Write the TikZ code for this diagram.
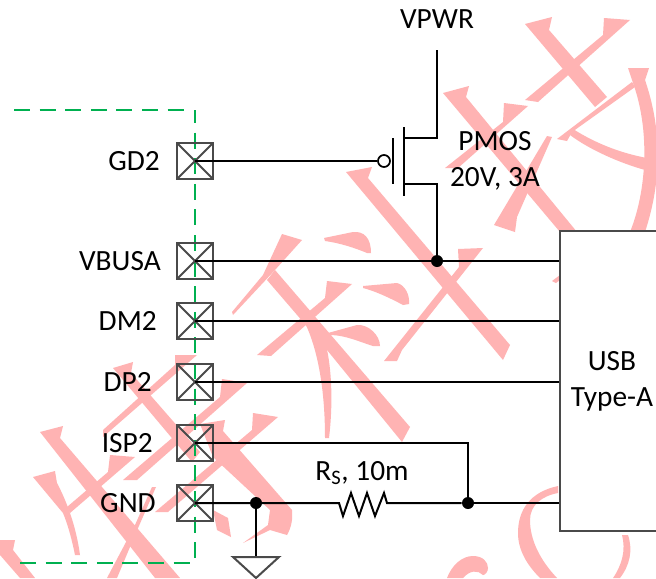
\documentclass[tikz,border=0pt]{standalone}
\usepackage{fontspec}
\setmainfont{Carlito}
\definecolor{wm}{HTML}{FFB3B3}
\definecolor{gd}{HTML}{00B050}
\definecolor{pin}{HTML}{4A4A4A}
\tikzset{
  wire/.style={line width=1.5pt,black},
  grn/.style={gd,line width=1.5pt,dash pattern=on 12pt off 7.2pt},
  lbl/.style={font=\fontsize{22}{27}\selectfont,inner sep=0pt,text=black},
  pinbox/.style={draw=pin,line width=1.5pt,minimum size=27pt,inner sep=0pt,path picture={
    \draw[pin,line width=1.4pt] (path picture bounding box.north west)--(path picture bounding box.south east)
     (path picture bounding box.north east)--(path picture bounding box.south west);}},
  dotj/.style={circle,fill=black,inner sep=0pt,minimum size=9pt},
  wmk/.style={fill=wm,draw=none}
}
\begin{document}
\begin{tikzpicture}[x=0.75pt,y=-0.75pt]
\useasboundingbox (0,0) rectangle (656,578);
\fill[white] (0,0) rectangle (656,578);
% watermark
\begin{scope}
\clip (0,0) rectangle (656,578);
\fill[wmk] (525,24)--(552,17)--(549,30)--(607,97)--(595,107)--cycle;
\fill[wmk] (630,20)--(604,18)--(603,35)--(525,100)--(538,102)--cycle;
\fill[wmk] (628,68)--(649,68)--(645,80) .. controls (662,130) and (662,180) .. (645,232)--(630,232) .. controls (647,190) and (650,130) .. (633,83)--cycle;
\fill[wmk] (632,82)--(557,139)--(567,141)--(572,132)--(635,87)--cycle;
\fill[wmk] (573,129) .. controls (595,143) and (620,153) .. (647,158)--(645,170) .. controls (620,163) and (590,150) .. (570,135)--cycle;
\fill[wmk] (443,93)--(469,86)--(466,97)--(577,232)--(560,232)--cycle;
\fill[wmk] (528,106)--(504,103)--(503,122)--(445,168)--(458,168)--cycle;
\fill[wmk] (552,137)--(547,136)--(494,225)--(515,232)--(517,217)--cycle;
\fill[wmk] (552,281)--(560,275)--(560,280)--(556,283)--cycle;
% middle glyph
\fill[wmk] (346,172)--(372,167)--(368,178)--(510,345)--(503,360)--cycle;
\fill[wmk] (483,248)--(458,249)--(459,267)--(384,361)--(397,361)--(402,350)--cycle;
\fill[wmk] (282,234)--(302,240)--(275,270)--(233,315)--(232,312)--(263,275)--cycle;
\fill[wmk] (267,280)--(275,270)--(410,427)--(402,442)--(327,350)--(310,330)--cycle;
\fill[wmk] (352,284)--(327,281)--(325,298)--(257,355)--(271,356)--cycle;
\fill[wmk] (305,323) .. controls (318,350) and (325,390) .. (325,438)--(329,438) .. controls (333,405) and (332,370) .. (326,345)--(325,330)--cycle;
\fill[wmk] (324,238)--(353,232) .. controls (364,231) and (371,238) .. (371,253)--(367,253) .. controls (355,248) and (340,243) .. (325,241)--cycle;
\fill[wmk] (363,286)--(397,283) .. controls (405,285) and (410,295) .. (409,304)--(403,305) .. controls (390,298) and (375,291) .. (363,288)--cycle;
\fill[wmk] (328,333)--(357,325) .. controls (368,324) and (380,335) .. (380,346)--(373,346) .. controls (360,342) and (345,335) .. (330,335)--cycle;
% lower-left glyph
\fill[wmk] (113,368)--(133,362)--(131,373)--(200,452)--(192,462)--cycle;
\fill[wmk] (197,355)--(175,355)--(175,365)--(103,430)--(103,437)--cycle;
\fill[wmk] (247,383)--(222,379)--(220,397)--(123,480)--(137,480)--cycle;
\fill[wmk] (278,417)--(253,413)--(252,430)--(155,512)--(168,512)--cycle;
\fill[wmk] (200,424)--(225,420)--(223,431)--(292,510) .. controls (293,520) and (291,528) .. (287,535)--(270,530)--(243,543)--(268,525)--(270,510)--(213,457)--cycle;
\fill[wmk] (213,510)--(228,518)--(231,537)--(217,530)--cycle;
\fill[wmk] (40,432)--(63,426)--(60,438)--(180,578)--(155,578)--cycle;
\fill[wmk] (135,457)--(110,455)--(108,472)--(67,507)--(70,513)--cycle;
\fill[wmk] (33,477)--(55,471)--(57,483) .. controls (66,500) and (76,525) .. (80,555)--(75,555) .. controls (72,540) and (68,525) .. (63,513)--cycle;
\fill[wmk] (152,487)--(156,487)--(135,535)--(117,578)--(107,578)--(135,525)--cycle;
\fill[wmk] (0,540)--(15,540)--(13,550)--(35,578)--(20,578)--(0,555)--cycle;
% bottom-right strokes
\fill[wmk] (558,486) .. controls (530,492) and (518,510) .. (518,533) .. controls (518,550) and (527,565) .. (540,578)--(557,578) .. controls (540,560) and (530,540) .. (530,520) .. controls (530,505) and (542,496) .. (558,493)--cycle;
\fill[wmk] (622,535)--(628,535) .. controls (633,550) and (630,565) .. (620,578)--(613,578) .. controls (622,565) and (626,550) .. (622,535)--cycle;
\fill[wmk] (447,578) .. controls (452,565) and (462,556) .. (473,556) .. controls (483,556) and (488,562) .. (488,568) .. controls (488,572) and (485,575) .. (483,575) .. controls (478,570) and (470,570) .. (463,578)--cycle;
\end{scope}
% green boundary
\draw[grn] (14,110)--(186,110);
\draw[grn,dash phase=2.25pt] (195,110)--(195,563);
\draw[grn] (20,563)--(191,563);
% USB box
\node[draw=pin,fill=white,line width=1.5pt,minimum width=120pt,minimum height=225pt,inner sep=0pt,anchor=north west] (usb) at (559,230) {};
\node[lbl,align=center] (usbt) at (612,381) {USB\\Type-A};
% pins
\foreach \n/\y in {gd/161,vb/261,dm/321,dp/382,isp/443,gnd/503}{
  \node[pinbox] (\n) at (195,\y) {};
  \coordinate (\n c) at (195,\y);
}
\node[lbl,anchor=east] (lgd) at (160,161) {GD2};
\node[lbl,anchor=east] (lvb) at (161,261) {VBUSA};
\node[lbl,anchor=east] (ldm) at (157,321) {DM2};
\node[lbl,anchor=east] (ldp) at (152,382) {DP2};
\node[lbl,anchor=east] (lisp) at (153,443) {ISP2};
\node[lbl,anchor=east] (lgnd) at (156,503) {GND};
% PMOS
\node[lbl] (vpwr) at (437,19) {VPWR};
\node[lbl,align=center] (pmos) at (495,161) {PMOS\\20V, 3A};
\coordinate (vtop) at (437,50);
\coordinate (dr) at (437,138);
\coordinate (sr) at (437,184);
\coordinate (chT) at (404,138);
\coordinate (chB) at (404,184);
\node[circle,draw=black,line width=1.3pt,fill=white,inner sep=0pt,minimum size=9pt] (bub) at (384,161) {};
\node[dotj] (j1) at (437,261) {};
\node[dotj] (j2) at (256,503) {};
\node[dotj] (j3) at (468,503) {};
\draw[wire] (vtop)--(dr)--(chT);
\draw[wire] (chB)--(sr)--(j1);
\draw[wire] (404,127)--(404,196);
\draw[wire] (393,138)--(393,184);
\draw[wire] (gdc)--(bub);
\draw[wire] (vbc)--(usb.west |- vbc);
\draw[wire] (dmc)--(usb.west |- dmc);
\draw[wire] (dpc)--(usb.west |- dpc);
\draw[wire] (ispc)--(468,443)--(j3);
% resistor
\coordinate (rl) at (336,503);
\coordinate (rr) at (387,503);
\draw[wire] (gndc)--(rl)--(339,503)--(343,516)--(351,493)--(359,516)--(367,493)--(375,516)--(384,493)--(rr)--(j3);
\draw[wire] (j3)--(usb.west |- j3);
\node[lbl,anchor=center] (rs) at (362,473) {R\textsubscript{S}, 10m};
% ground
\coordinate (gt) at (256,557);
\draw[wire] (j2)--(gt);
\draw[draw=pin,line width=1.5pt] (233,557)--(279,557)--(256,578)--cycle;
\end{tikzpicture}
\end{document}
